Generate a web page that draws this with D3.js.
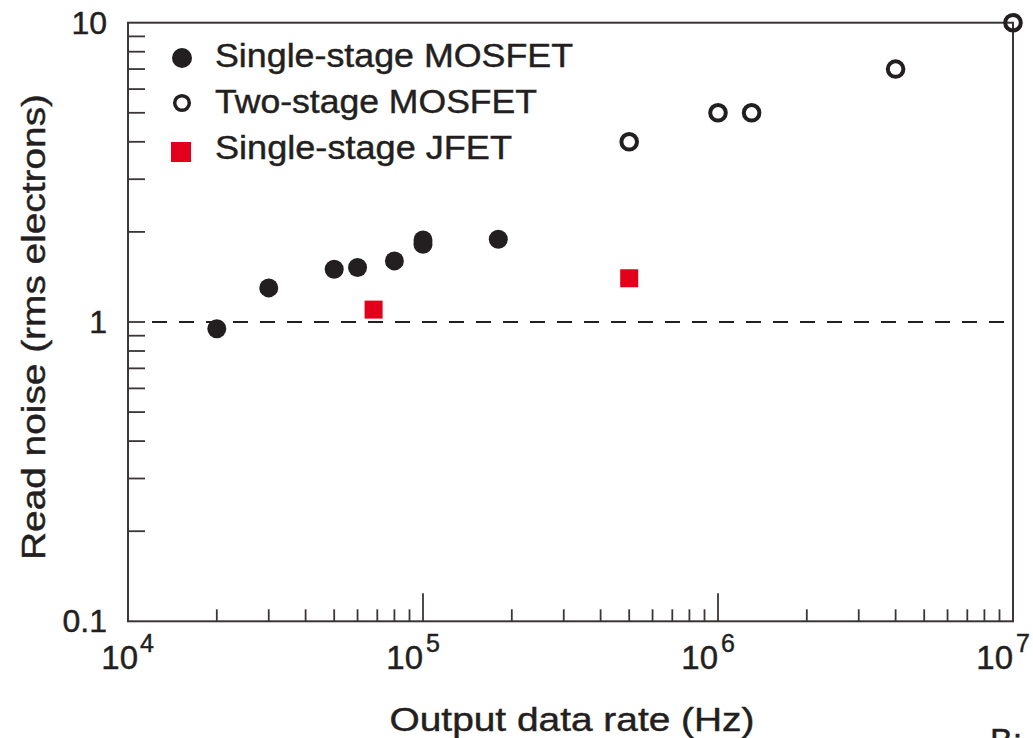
<!DOCTYPE html>
<meta charset="utf-8">
<style>
  body { margin: 0; background: #fff; }
  svg text { font-family: "Liberation Sans", Arial, sans-serif; fill: #231f20; stroke: #231f20; stroke-width: 0.45px; }
</style>
<body>
<svg id="chart" width="1033" height="738"></svg>
<script src="https://d3js.org/d3.v7.min.js"></script>
<script>
  // data
  const singleMosRate  = [2e4, 3e4, 5e4, 6e4, 8e4, 1e5, 1e5, 1.8e5];
  const singleMosNoise = [0.95, 1.3, 1.5, 1.52, 1.6, 1.88, 1.82, 1.89];
  const twoMosRate  = [5e5, 1e6, 1.3e6, 4e6, 1e7];
  const twoMosNoise = [4, 5, 5, 7, 10];
  const jfetRate  = [6.8e4, 5e5];
  const jfetNoise = [1.1, 1.4];

  const legendLabels = ["Single-stage MOSFET", "Two-stage MOSFET", "Single-stage JFET"];
  const yTickValues = [10, 1, 0.1];
  const yTickLabels = ["10", "1", "0.1"];
  const xTickExponents = [4, 5, 6, 7];
  const refLine = 1;

  const ink = "#231f20", frameCol = "#3b3535", red = "#e2001a";

  const svg = d3.select("#chart");
  const pLeft = 128, pRight = 1013, pTop = 22.7, pBottom = 621.3;

  const x = d3.scaleLog().domain([1e4, 1e7]).range([pLeft, pRight]);
  const y = d3.scaleLog().domain([0.1, 10]).range([pBottom, pTop]);

  // minor ticks 2..9 for each decade
  const minor = (lo, hi) => {
    const out = [];
    for (let e = lo; e < hi; e++) for (let m = 2; m <= 9; m++) out.push(m * Math.pow(10, e));
    return out;
  };

  // y ticks (all the same length, pointing in)
  svg.append("g").selectAll("line")
    .data(minor(-1, 1).concat([1]))
    .join("line")
      .attr("x1", pLeft).attr("x2", pLeft + 17)
      .attr("y1", d => y(d)).attr("y2", d => y(d))
      .attr("stroke", frameCol).attr("stroke-width", 1.8);

  // x ticks: short minors, longer majors
  svg.append("g").selectAll("line")
    .data(minor(4, 7))
    .join("line")
      .attr("x1", d => x(d)).attr("x2", d => x(d))
      .attr("y1", pBottom).attr("y2", pBottom - 12)
      .attr("stroke", frameCol).attr("stroke-width", 1.8);
  svg.append("g").selectAll("line")
    .data([1e5, 1e6])
    .join("line")
      .attr("x1", d => x(d)).attr("x2", d => x(d))
      .attr("y1", pBottom).attr("y2", pBottom - 28)
      .attr("stroke", frameCol).attr("stroke-width", 1.8);

  // dashed reference line at 1 electron
  svg.append("line")
    .attr("x1", pLeft + 24).attr("x2", pRight)
    .attr("y1", y(refLine)).attr("y2", y(refLine))
    .attr("stroke", ink).attr("stroke-width", 2)
    .attr("stroke-dasharray", "15,12");

  // frame
  svg.append("rect")
    .attr("x", pLeft).attr("y", pTop)
    .attr("width", pRight - pLeft).attr("height", pBottom - pTop)
    .attr("fill", "none").attr("stroke", frameCol).attr("stroke-width", 2);

  // y tick labels
  svg.append("g").selectAll("text")
    .data(yTickValues)
    .join("text")
      .attr("x", 107).attr("y", d => y(d) + 11)
      .attr("text-anchor", "end")
      .style("font-size", "32px")
      .text((d, i) => yTickLabels[i]);

  // x tick labels 10^n
  const xl = svg.append("g").selectAll("g")
    .data(xTickExponents)
    .join("g")
      .attr("transform", d => `translate(${x(Math.pow(10, d))},0)`);
  xl.append("text")
    .attr("x", d => d === 4 ? 10 : 0).attr("y", 669)
    .attr("text-anchor", "end")
    .style("font-size", "33px")
    .text("10");
  xl.append("text")
    .attr("x", d => d === 4 ? 12 : 3).attr("y", 652)
    .style("font-size", "25px")
    .text(d => d);

  // axis titles
  svg.append("text")
    .attr("x", 572).attr("y", 731)
    .attr("text-anchor", "middle")
    .attr("textLength", 365).attr("lengthAdjust", "spacingAndGlyphs")
    .style("font-size", "34px")
    .text("Output data rate (Hz)");
  svg.append("text")
    .attr("transform", "translate(45,327) rotate(-90)")
    .attr("text-anchor", "middle")
    .attr("textLength", 466).attr("lengthAdjust", "spacingAndGlyphs")
    .style("font-size", "34px")
    .text("Read noise (rms electrons)");

  // data marks
  svg.append("g").selectAll("circle")
    .data(d3.zip(singleMosRate, singleMosNoise))
    .join("circle")
      .attr("cx", d => x(d[0])).attr("cy", d => y(d[1]))
      .attr("r", 9.5).attr("fill", ink);

  svg.append("g").selectAll("circle")
    .data(d3.zip(twoMosRate, twoMosNoise))
    .join("circle")
      .attr("cx", d => x(d[0])).attr("cy", d => y(d[1]))
      .attr("r", 7.8).attr("fill", "none")
      .attr("stroke", ink).attr("stroke-width", 4);

  svg.append("g").selectAll("rect")
    .data(d3.zip(jfetRate, jfetNoise))
    .join("rect")
      .attr("x", d => x(d[0]) - 9).attr("y", d => y(d[1]) - 9)
      .attr("width", 18).attr("height", 18).attr("fill", red);

  // legend
  const lg = svg.append("g");
  lg.append("circle").attr("cx", 182).attr("cy", 58).attr("r", 10).attr("fill", ink);
  lg.append("circle").attr("cx", 182).attr("cy", 103).attr("r", 7.3)
    .attr("fill", "none").attr("stroke", ink).attr("stroke-width", 3.5);
  lg.append("rect").attr("x", 171).attr("y", 142).attr("width", 20).attr("height", 20).attr("fill", red);
  const legendWidths = [358, 322, 297];
  lg.selectAll("text")
    .data(legendLabels)
    .join("text")
      .attr("x", 215).attr("y", (d, i) => 67 + i * 46)
      .attr("textLength", (d, i) => legendWidths[i]).attr("lengthAdjust", "spacingAndGlyphs")
      .style("font-size", "34px")
      .text(d => d);

  // cut-off text at lower right of the source page
  svg.append("text")
    .attr("x", 990).attr("y", 752)
    .style("font-size", "34px")
    .text("B:");
</script>
</body>
